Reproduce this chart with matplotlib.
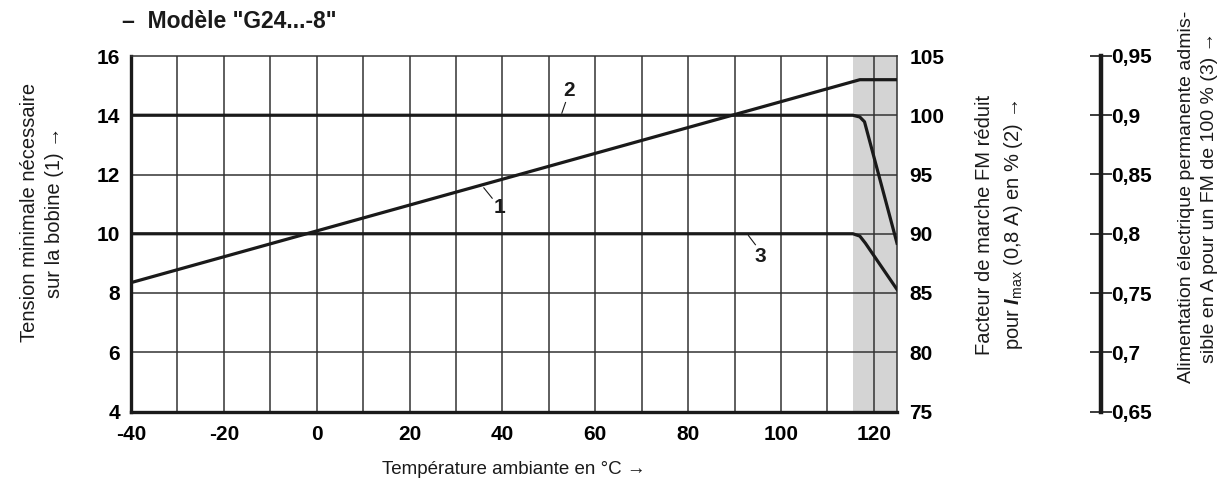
import matplotlib
matplotlib.use("Agg")
import matplotlib.pyplot as plt
from matplotlib import font_manager as fm

names = {f.name for f in fm.fontManager.ttflist}
NARROW = "Liberation Sans Narrow" if "Liberation Sans Narrow" in names else "Liberation Sans"
REG = "Liberation Sans"

plt.rcParams["mathtext.fontset"] = "custom"
plt.rcParams["mathtext.rm"] = "Liberation Sans"
plt.rcParams["mathtext.it"] = "Liberation Sans:italic"
plt.rcParams["mathtext.bf"] = "Liberation Sans:bold"
plt.rcParams["mathtext.bfit"] = "Liberation Sans:bold:italic"

# ---- data ----
temp1 = [-40, 117, 125]
volt1 = [8.35, 15.2, 15.2]

temp2 = [-40, 115.5, 117, 118, 125]
fm2 = [100, 100, 99.85, 99.45, 89.2]

temp3 = [-40, 115.5, 117, 118.2, 125]
amp3 = [0.8, 0.8, 0.798, 0.792, 0.753]

xticks = [-40, -20, 0, 20, 40, 60, 80, 100, 120]
yticks_left = [4, 6, 8, 10, 12, 14, 16]
yticks_right = [75, 80, 85, 90, 95, 100, 105]
yticks_amp = [0.65, 0.7, 0.75, 0.8, 0.85, 0.9, 0.95]
amp_labels = ["0,65", "0,7", "0,75", "0,8", "0,85", "0,9", "0,95"]
shade = (115.5, 125)

fig = plt.figure(figsize=(12.27, 4.87), dpi=100)
L, R, B, T = 131 / 1227, 897 / 1227, 1 - 411.5 / 487, 1 - 56 / 487
ax = fig.add_axes([L, B, R - L, T - B])
ax.set_xlim(-40, 125)
ax.set_ylim(4, 16)

ax.axvspan(shade[0], shade[1], color="#d4d4d4", lw=0, zorder=0)
for xv in range(-30, 121, 10):
    ax.axvline(xv, color="#333333", lw=1.1, zorder=1)
for yv in [6, 8, 10, 12, 14]:
    ax.axhline(yv, color="#333333", lw=1.1, zorder=1)

lc = "#1a1a1a"
ax.plot(temp1, volt1, color=lc, lw=2.3, zorder=3, solid_capstyle="butt")

ax.set_xticks(xticks)
ax.set_yticks(yticks_left)
tkfont = dict(family=NARROW, weight="bold", size=15)
ax.set_xticklabels([str(v) for v in xticks], **tkfont)
ax.set_yticklabels([str(v) for v in yticks_left], **tkfont)
ax.tick_params(axis="both", length=0, pad=8)
ax.tick_params(axis="x", pad=10)
for s in ["left", "bottom"]:
    ax.spines[s].set_linewidth(2.4)
    ax.spines[s].set_color(lc)
for s in ["top", "right"]:
    ax.spines[s].set_linewidth(1.1)
    ax.spines[s].set_color("#333333")

# right axis (%)
ax2 = ax.twinx()
ax2.set_ylim(75, 105)
ax2.set_yticks(yticks_right)
ax2.set_yticklabels([str(v) for v in yticks_right], **tkfont)
ax2.tick_params(axis="y", length=0, pad=9)
for s in ax2.spines.values():
    s.set_visible(False)
ax2.plot(temp2, fm2, color=lc, lw=2.3, zorder=3)

# third axis (A)
ax3 = ax.twinx()
ax3.set_ylim(0.65, 0.95)
ax3.spines["right"].set_position(("axes", (1101 - 131) / (897 - 131)))
for s in ["left", "top", "bottom"]:
    ax3.spines[s].set_visible(False)
ax3.spines["right"].set_linewidth(3.2)
ax3.spines["right"].set_color(lc)
ax3.set_yticks(yticks_amp)
ax3.set_yticklabels(amp_labels, **tkfont)
ax3.tick_params(axis="y", direction="inout", length=16, width=1.2, pad=-1, color=lc)
ax3.plot(temp3, amp3, color=lc, lw=2.3, zorder=3, clip_on=True)

# curve labels with leaders
lab = dict(family=NARROW, weight="bold", size=15, color=lc, ha="center", va="center")
ax.plot([52.8, 53.6], [14.07, 14.43], color=lc, lw=0.8)
ax.text(54.3, 14.85, "2", **lab)
ax.plot([93.0, 94.5], [9.94, 9.63], color=lc, lw=0.8)
ax.text(95.6, 9.22, "3", **lab)
ax.plot([36.0, 37.8], [11.55, 11.2], color=lc, lw=0.8)
ax.text(39.3, 10.9, "1", **lab)

# title
fig.text(122 / 1227, 1 - 22 / 487, "–  Modèle \"G24...-8\"", family=REG, weight="bold",
         size=16.5, ha="left", va="center", color=lc)

# axis labels
lbl = dict(family=REG, size=14.5, color="#1a1a1a", rotation=90, ha="center", va="center",
           linespacing=1.45)
fig.text(42 / 1227, 1 - 212 / 487, "Tension minimale nécessaire\nsur la bobine (1) →", **lbl)
fig.text(1000 / 1227, 1 - 225 / 487,
         "Facteur de marche FM réduit\npour $\\mathbfit{I}_{\\mathrm{max}}$ (0,8 A) en % (2) →", **lbl)
lbl3 = dict(lbl, size=14)
fig.text(1198 / 1227, 1 - 197 / 487,
         "Alimentation électrique permanente admis-\nsible en A pour un FM de 100 % (3) →", **lbl3)
fig.text(514 / 1227, 1 - 470 / 487, "Température ambiante en °C →", family=REG, size=13.5,
         color="#1a1a1a", ha="center", va="center")

fig.savefig("out.png", dpi=100)
